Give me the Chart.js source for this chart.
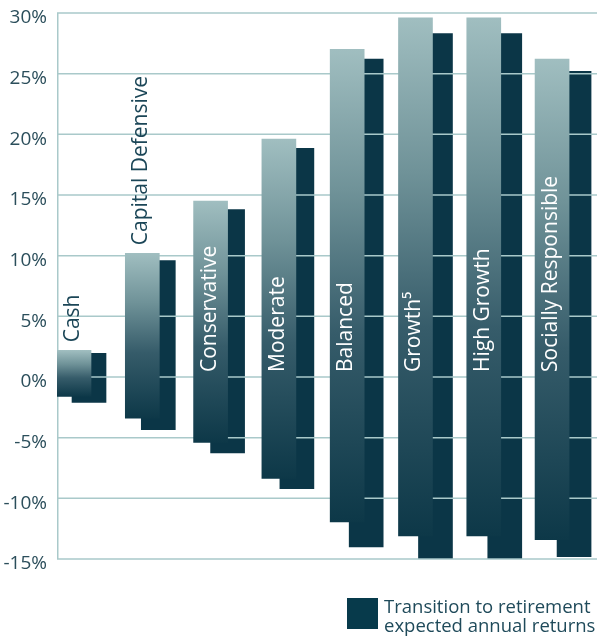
<!DOCTYPE html>
<html>
<head>
<meta charset="utf-8">
<script src="https://cdn.jsdelivr.net/npm/chart.js@4.4.1/dist/chart.umd.min.js"></script>
<style>
  html, body { margin: 0; padding: 0; background: #ffffff; }
  #wrap { width: 597px; height: 637px; position: relative; }
</style>
</head>
<body>
<div id="wrap"><canvas id="c"></canvas></div>
<script>
// ---- data ----
const categories = ['Cash', 'Capital Defensive', 'Conservative', 'Moderate', 'Balanced', 'Growth\u2075', 'High Growth', 'Socially Responsible'];
const accumHigh = [2.2, 10.2, 14.5, 19.6, 27.0, 29.6, 29.6, 26.2];
const accumLow  = [-1.6, -3.4, -5.4, -8.35, -11.95, -13.1, -13.1, -13.4];
const ttrHigh   = [1.95, 9.6, 13.8, 18.85, 26.2, 28.3, 28.3, 25.2];
const ttrLow    = [-2.1, -4.35, -6.25, -9.2, -14.0, -15.0, -15.0, -14.8];
const yTickValues = [-15, -10, -5, 0, 5, 10, 15, 20, 25, 30];
const legendLines = ['Transition to retirement', 'expected annual returns'];

const FONT = "'Open Sans', 'DejaVu Sans', sans-serif";
const GRID = '#a9c9ca';
const DARK = '#0b3647';

const accumData = categories.map((c, i) => ({ x: i, y: [accumLow[i], accumHigh[i]] }));
const ttrData = categories.map((c, i) => ({ x: i, y: [ttrLow[i], ttrHigh[i]] }));

function gradientFill(ctx) {
  const chart = ctx.chart;
  if (!chart.chartArea || ctx.type !== 'data') return '#5a7f88';
  const ys = chart.scales.y;
  const v = ctx.raw.y;
  const top = ys.getPixelForValue(Math.max(v[0], v[1]));
  const bot = ys.getPixelForValue(Math.min(v[0], v[1]));
  const g = chart.ctx.createLinearGradient(0, top, 0, bot);
  g.addColorStop(0, '#a0bec0');
  g.addColorStop(0.3, '#6f9298');
  g.addColorStop(0.6, '#365c6a');
  g.addColorStop(1, '#0d3848');
  return g;
}

// grid drawn after the dark bars, before the gradient bars
const gridPlugin = {
  id: 'gridAfterDark',
  afterDatasetDraw(chart, args) {
    if (args.index !== 1) return;
    const { ctx, chartArea } = chart;
    const ys = chart.scales.y;
    ctx.save();
    ctx.strokeStyle = GRID;
    ctx.lineWidth = 1.5;
    yTickValues.forEach(v => {
      const py = ys.getPixelForValue(v);
      ctx.beginPath();
      ctx.moveTo(chartArea.left, py);
      ctx.lineTo(chartArea.right, py);
      ctx.stroke();
    });
    ctx.beginPath();
    ctx.moveTo(chartArea.left + 0.75, ys.getPixelForValue(yTickValues[yTickValues.length - 1]));
    ctx.lineTo(chartArea.left + 0.75, ys.getPixelForValue(yTickValues[0]));
    ctx.stroke();
    ctx.restore();
  }
};

const labelPlugin = {
  id: 'barLabels',
  afterDatasetsDraw(chart) {
    const { ctx } = chart;
    const ys = chart.scales.y;
    const meta = chart.getDatasetMeta(0);
    const startY = ys.getPixelForValue(0) - 5;
    ctx.save();
    ctx.font = '21px ' + FONT;
    ctx.textBaseline = 'middle';
    ctx.textAlign = 'left';
    meta.data.forEach((bar, i) => {
      const text = categories[i];
      const w = ctx.measureText(text).width;
      const topPx = ys.getPixelForValue(accumHigh[i]);
      let y0, color;
      if (startY - topPx - 8 >= w) { y0 = startY; color = '#ffffff'; }
      else { y0 = topPx - 8; color = '#1b4657'; }
      ctx.save();
      ctx.translate(bar.x - 1, y0);
      ctx.rotate(-Math.PI / 2);
      ctx.fillStyle = color;
      ctx.fillText(text, 0, 0);
      ctx.restore();
    });
    ctx.restore();
  }
};

const legendPlugin = {
  id: 'customLegend',
  afterDraw(chart) {
    const { ctx } = chart;
    ctx.save();
    ctx.fillStyle = '#073a4b';
    ctx.fillRect(347, 598, 31, 31);
    ctx.fillStyle = '#1f4a5a';
    ctx.font = '18.5px ' + FONT;
    ctx.textBaseline = 'alphabetic';
    ctx.textAlign = 'left';
    ctx.fillText(legendLines[0], 384, 613);
    ctx.fillText(legendLines[1], 384, 632);
    ctx.restore();
  }
};

new Chart(document.getElementById('c'), {
  type: 'bar',
  data: {
    datasets: [
      {
        label: 'Accumulation',
        data: accumData,
        xAxisID: 'x',
        yAxisID: 'y',
        backgroundColor: gradientFill,
        borderWidth: 0,
        barThickness: 34,
        grouped: false,
        order: 0
      },
      {
        label: legendLines.join(' '),
        data: ttrData,
        xAxisID: 'x2',
        yAxisID: 'y',
        backgroundColor: DARK,
        borderWidth: 0,
        barThickness: 34,
        grouped: false,
        order: 1
      }
    ]
  },
  options: {
    responsive: true,
    maintainAspectRatio: false,
    animation: false,
    layout: { padding: { top: 13, bottom: 78, left: 0, right: 0 } },
    plugins: { legend: { display: false }, tooltip: { enabled: false } },
    scales: {
      x: { type: 'linear', min: -0.249, max: 7.658, offset: false, display: false },
      x2: { type: 'linear', min: -0.462, max: 7.331, offset: false, display: false },
      y: {
        type: 'linear',
        min: yTickValues[0],
        max: yTickValues[yTickValues.length - 1],
        afterBuildTicks(scale) { scale.ticks = yTickValues.map(v => ({ value: v })); },
        afterFit(scale) { scale.width = 57; scale.paddingTop = 0; scale.paddingBottom = 0; },
        grid: { display: false, drawTicks: false },
        border: { display: false },
        ticks: {
          padding: 10,
          labelOffset: 5,
          color: '#2b4e5b',
          font: { family: FONT, size: 19 },
          callback: v => v + '%'
        }
      }
    }
  },
  plugins: [gridPlugin, labelPlugin, legendPlugin]
});
</script>
</body>
</html>
